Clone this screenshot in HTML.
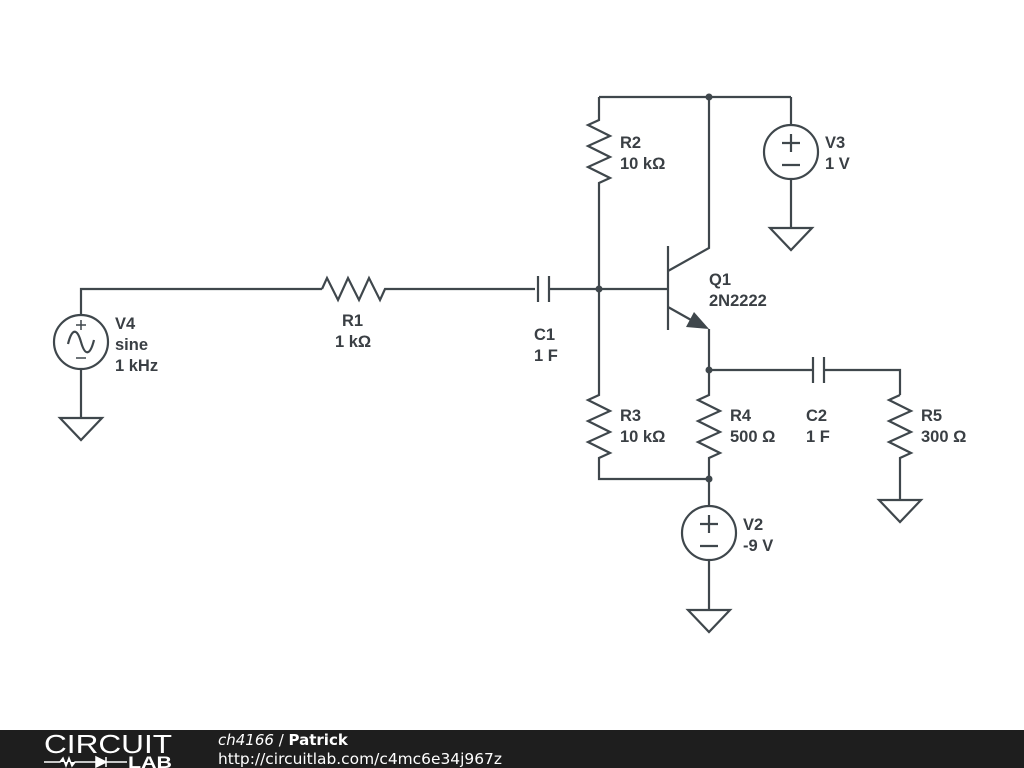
<!DOCTYPE html>
<html><head><style>
body{margin:0;width:1024px;height:768px;background:#fff;overflow:hidden;font-family:"Liberation Sans",sans-serif}
</style></head><body>
<svg width="1024" height="768" viewBox="0 0 1024 768" style="position:absolute;left:0;top:0">
<g fill="none" stroke="#3f474c" stroke-width="2.2" stroke-linejoin="miter">
<circle cx="81" cy="342" r="27"/>
<path d="M81 315V289H322M81 369V418M60 418H102L81 440Z"/>
<path d="M68 344c4-16 9-16 13 -2s9 14 13 -2"/>
<path d="M322 289L327 278L338 300L348 278L359 300L369 278L380 300L385 289H535"/>
<path d="M538 276V302M549 276V302M549 289H668"/>
<path d="M599 97H791M599 97V120L588 125L610 136L588 146L610 157L588 167L610 178L599 183V289"/>
<path d="M709 97V248L668 271M668 246V330M668 307L700 325M709 329V370"/>
<path d="M709 370H812M813 357V383M824 357V383M824 370H900V395"/>
<path d="M599 289V395L588 400L610 411L588 421L610 432L588 442L610 453L599 458V479H709"/>
<path d="M709 370V395L698 400L720 411L698 421L720 432L698 442L720 453L709 458V506"/>
<path d="M900 395L889 400L911 411L889 421L911 432L889 442L911 453L900 458V500M879 500H921L900 522Z"/>
<circle cx="709" cy="533" r="27"/>
<path d="M709 560V610M688 610H730L709 632Z"/>
<path d="M700 524H718M709 515V533M700 546H718"/>
<circle cx="791" cy="152" r="27"/>
<path d="M791 125V97M791 179V228M770 228H812L791 250Z"/>
<path d="M782 143H800M791 134V152M782 165H800"/>
<path d="M76 325H86M81 320V330M76 358H86" stroke-width="1.5"/>
</g>
<path d="M709 329L686 327L694 312Z" fill="#3f474c"/>
<g fill="#3f474c"><circle cx="709" cy="97" r="3.5"/><circle cx="599" cy="289" r="3.5"/><circle cx="709" cy="370" r="3.5"/><circle cx="709" cy="479" r="3.5"/></g>
<g fill="#3a3f44" font-family="Liberation Sans, sans-serif" font-weight="bold" font-size="16.5">
<text x="115" y="329">V4</text><text x="115" y="350">sine</text><text x="115" y="371">1 kHz</text>
<text x="342" y="326">R1</text><text x="335" y="347">1 kΩ</text>
<text x="534" y="340">C1</text><text x="534" y="361">1 F</text>
<text x="620" y="148">R2</text><text x="620" y="169">10 kΩ</text>
<text x="825" y="148">V3</text><text x="825" y="169">1 V</text>
<text x="709" y="285">Q1</text><text x="709" y="306">2N2222</text>
<text x="620" y="421">R3</text><text x="620" y="442">10 kΩ</text>
<text x="730" y="421">R4</text><text x="730" y="442">500 Ω</text>
<text x="806" y="421">C2</text><text x="806" y="442">1 F</text>
<text x="921" y="421">R5</text><text x="921" y="442">300 Ω</text>
<text x="743" y="530">V2</text><text x="743" y="551">-9 V</text>
</g>
<rect x="0" y="730" width="1024" height="38" fill="#1e1e1e"/>
<text x="44" y="753" fill="#fff" font-size="26" font-family="Liberation Sans, sans-serif" textLength="128" lengthAdjust="spacingAndGlyphs">CIRCUIT</text>
<path d="M44 762H60l3-4 3 8 3-8 3 8 3-4H96M96 757V767L106 762ZM106 757V767M106 762H127" stroke="#fff" stroke-width="1.5" fill="#fff"/>
<text x="128" y="768" fill="#fff" font-size="17" font-weight="bold" font-family="Liberation Sans, sans-serif" textLength="44" lengthAdjust="spacingAndGlyphs">LAB</text>
<text x="218" y="745" fill="#fff" font-size="15" font-family="DejaVu Sans, sans-serif"><tspan font-style="italic">ch4166</tspan> / <tspan font-weight="bold">Patrick</tspan></text>
<text x="218" y="764" fill="#fff" font-size="15" font-family="DejaVu Sans, sans-serif" textLength="284" lengthAdjust="spacingAndGlyphs">http://circuitlab.com/c4mc6e34j967z</text>
</svg>
</body></html>
